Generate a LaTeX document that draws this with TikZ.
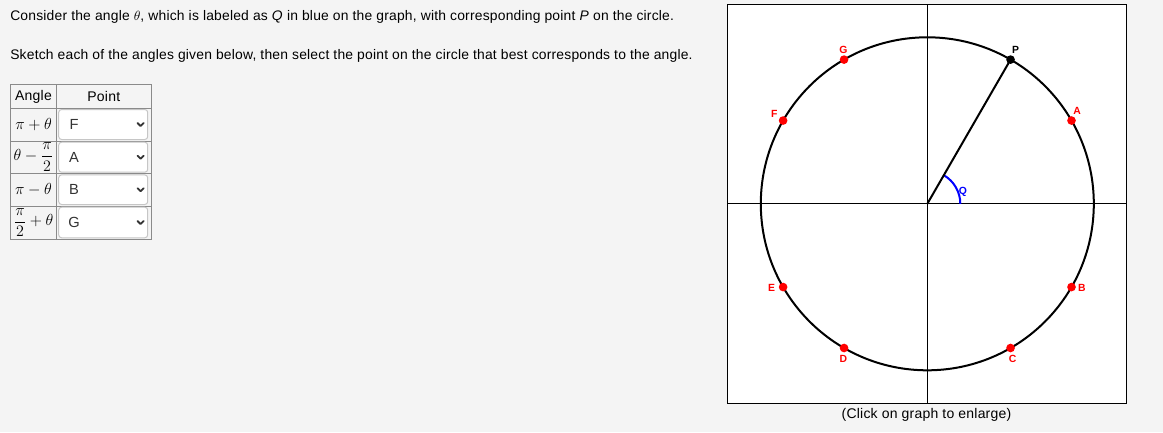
\documentclass[tikz,border=0pt]{standalone}
\usepackage[no-math]{fontspec}
\setmainfont{Liberation Sans}[LetterSpace=1.5]
\newfontfamily\lblfont{Liberation Sans}
\definecolor{pagebg}{HTML}{F4F4F4}
\definecolor{tblline}{HTML}{8A8A8A}
\definecolor{ddline}{HTML}{C6C6C6}
\definecolor{ddtext}{HTML}{333333}
\tikzset{
  txt/.style={anchor=base west,inner sep=0pt,font=\fontsize{10.4}{12}\selectfont},
  caption/.style={anchor=base,inner sep=0pt,font=\fontsize{10.5}{12}\selectfont},
  hdr/.style={anchor=center,inner sep=0pt,font=\fontsize{10.5}{12}\selectfont},
  cellline/.style={draw=tblline,line width=0.75pt},
  ddbox/.style={draw=ddline,fill=white,rounded corners=2.2pt,line width=0.75pt},
  ddlabel/.style={anchor=center,inner sep=0pt,text=ddtext,font=\fontsize{11}{12}\selectfont},
  chev/.style={line width=1.4pt,draw=ddtext,line cap=round,line join=round},
  mathcell/.style={anchor=center,inner sep=0pt,font=\fontsize{13}{15}\selectfont},
  axis/.style={line width=0.75pt,draw=black},
  circ/.style={line width=1.5pt,draw=black},
  rdot/.style={circle,fill=red,inner sep=0pt,minimum size=6.5pt},
  bdot/.style={circle,fill=black,inner sep=0pt,minimum size=6.5pt},
  rlbl/.style={inner sep=0pt,text=red,font=\lblfont\bfseries\fontsize{7.8}{9}\selectfont},
  blbl/.style={inner sep=0pt,text=black,font=\lblfont\bfseries\fontsize{7.8}{9}\selectfont},
  qlbl/.style={inner sep=0pt,text=blue,font=\lblfont\bfseries\fontsize{7.8}{9}\selectfont},
}
\begin{document}
\begin{tikzpicture}[x=0.75pt,y=-0.75pt]
\useasboundingbox (0,0) rectangle (1163,432);
\fill[pagebg] (0,0) rectangle (1163,432);

% instructions
\node[txt] (t1) at (10,20) {Consider the angle $\theta$, which is labeled as \textit{Q} in blue on the graph, with corresponding point \textit{P} on the circle.};
\node[txt] (t2) at (10,59.5) {Sketch each of the angles given below, then select the point on the circle that best corresponds to the angle.};

% table
\draw[cellline] (10.3,84.3) rectangle (151,239.3);
\foreach \yy in {108.3,141,173.7,206} \draw[cellline] (10.3,\yy) -- (151,\yy);
\draw[cellline] (56.7,84.3) -- (56.7,239.3);
\node[hdr] (hA) at (33.5,96.5) {Angle};
\node[hdr] (hP) at (103.8,96.5) {Point};

\node[mathcell] (m1) at (33.5,124.6) {$\pi+\theta$};
\node[mathcell] (m2) at (33.5,157.3) {$\displaystyle\theta-\frac{\pi}{2}$};
\node[mathcell] (m3) at (33.5,189.8) {$\pi-\theta$};
\node[mathcell] (m4) at (33.5,222.6) {$\displaystyle\frac{\pi}{2}+\theta$};

\foreach \yt/\yb/\lt/\nm in {108.3/141/F/d1,141/173.7/A/d2,173.7/206/B/d3,206/239.3/G/d4}{
  \draw[ddbox] (58.7,\yt+1.2) rectangle (147.7,\yb-1.5);
  \node[ddlabel] (\nm) at (74,{(\yt+\yb)/2}) {\lt};
  \draw[chev] (137.6,{(\yt+\yb)/2-1.6}) -- (140.6,{(\yt+\yb)/2+1.4}) -- (143.6,{(\yt+\yb)/2-1.6});
}

% graph
\draw[fill=white,line width=0.75pt] (727.3,4.3) rectangle (1126.7,403.3);
\coordinate (O) at (927.3,203.8);
\draw[axis] (727.3,203.8) -- (1126.7,203.8);
\draw[axis] (927.3,4.3) -- (927.3,403.3);
\begin{scope}[shift={(O)},yscale=-1]
  \draw[circ] (0,0) circle (166.5);
  \node[bdot] (P) at (60:166.5) {};
  \node[rdot] (A) at (30:166.5) {};
  \node[rdot] (G) at (120:166.5) {};
  \node[rdot] (F) at (150:166.5) {};
  \node[rdot] (E) at (210:166.5) {};
  \node[rdot] (D) at (240:166.5) {};
  \node[rdot] (C) at (300:166.5) {};
  \node[rdot] (B) at (330:166.5) {};
  \draw[blue,line width=1.5pt] (33,0) arc (0:60:33);
\end{scope}
\draw[line width=1.5pt] (O) -- (P.center);

\node[blbl] (lP) at (1015.7,49.5) {P};
\node[rlbl] (lG) at (843.3,49.5) {G};
\node[rlbl] (lF) at (774.3,113.5) {F};
\node[rlbl] (lA) at (1077,110.5) {A};
\node[rlbl] (lE) at (771.7,287.8) {E};
\node[rlbl] (lB) at (1081.8,287.8) {B};
\node[rlbl] (lD) at (843.3,359.3) {D};
\node[rlbl] (lC) at (1012.7,359.3) {C};
\node[qlbl] (lQ) at (963,191.5) {Q};

\node[caption] (cap) at (926.5,418.7) {(Click on graph to enlarge)};
\end{tikzpicture}
\end{document}
